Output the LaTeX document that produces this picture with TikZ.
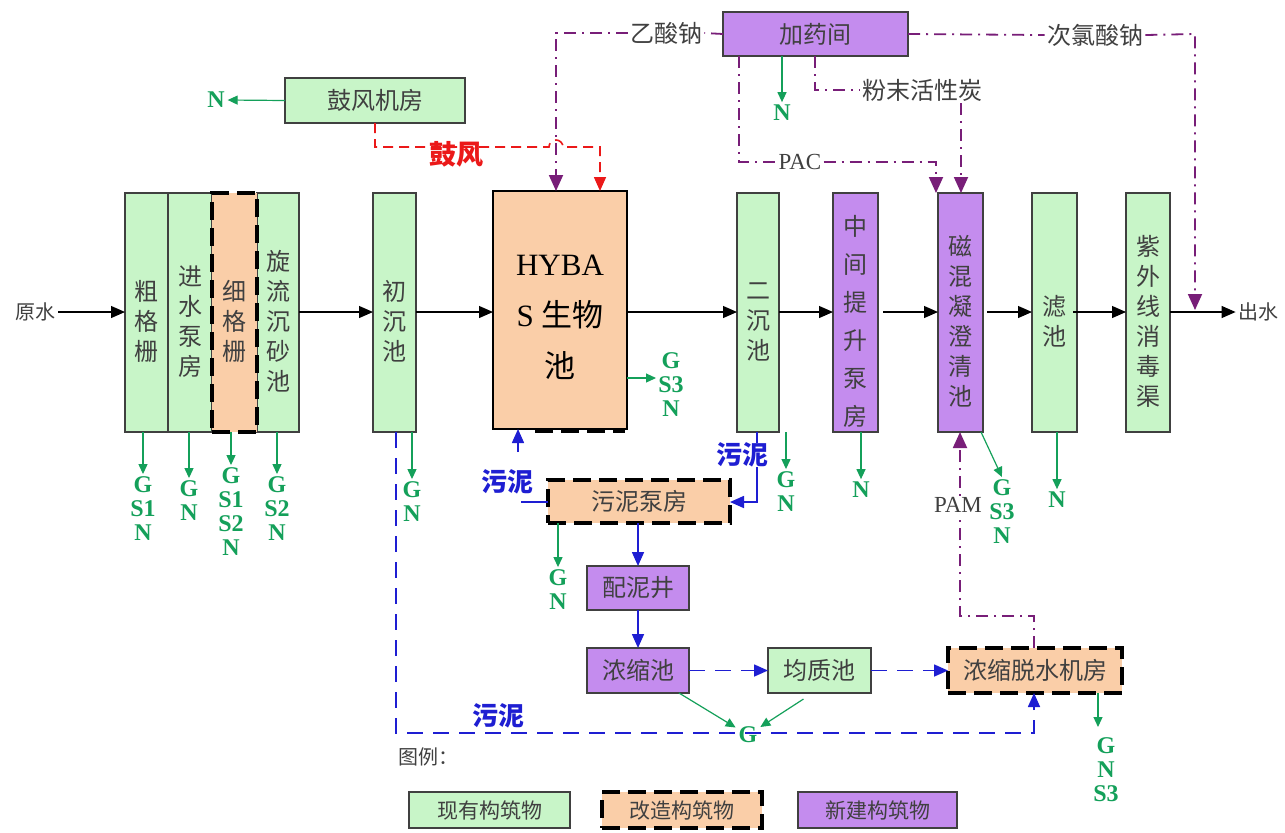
\documentclass[tikz,border=0pt]{standalone}
\usepackage{fontspec}
\setmainfont{Liberation Serif}
\newfontfamily\cjk{Noto Sans CJK SC}
\usetikzlibrary{arrows.meta,fit}
\newcommand\myfs[2]{\fontsize{#1}{#2}\selectfont}
\definecolor{gfill}{RGB}{200,245,200}
\definecolor{ofill}{RGB}{250,206,168}
\definecolor{pfill}{RGB}{196,140,238}
\definecolor{gcol}{RGB}{20,160,90}
\definecolor{bcol}{RGB}{30,30,210}
\definecolor{pcol}{RGB}{120,30,120}
\definecolor{rcol}{RGB}{235,25,25}
\tikzset{
 box/.style={rectangle, inner sep=0pt, outer sep=0pt, line width=0.8pt, draw=black!75},
 gbox/.style={box, fill=gfill},
 pbox/.style={box, fill=pfill},
 obox/.style={box, fill=ofill, draw=black, line width=1.6pt, dash pattern=on 9pt off 4pt},
 vt/.style={inner sep=0pt, align=center, text=black!75, font=\cjk\myfs{12}{15}},
 ht/.style={inner sep=0pt, text=black!75, font=\cjk\myfs{12}{15}},
 flow/.style={line width=0.6pt, draw=black, -{Triangle[length=7pt,width=6pt]}},
 garr/.style={line width=0.6pt, draw=gcol, -{Triangle[length=5pt,width=4.5pt]}},
 glab/.style={inner sep=0pt, outer sep=1.5pt, align=center, text=gcol, font=\bfseries\myfs{12}{12}},
 bsolid/.style={line width=0.8pt, draw=bcol},
 barr/.style={bsolid, -{Triangle[length=7pt,width=6pt]}},
 bdash/.style={barr, dash pattern=on 8pt off 5pt},
 pline/.style={line width=0.9pt, draw=pcol, dash pattern=on 6pt off 3pt on 1pt off 3pt},
 parr/.style={pline, -{Triangle[length=8pt,width=7pt]}},
 rdash/.style={line width=0.8pt, draw=rcol, dash pattern=on 5pt off 3pt, -{Triangle[length=7pt,width=6pt]}},
 lab/.style={inner sep=1pt, text=black!75, font=\cjk\myfs{12}{14}},
 tlab/.style={inner sep=1pt, text=black!75, font=\myfs{11.5}{14}},
 slab/.style={inner sep=1pt, text=bcol, font=\cjk\bfseries\myfs{13}{14}},
}
\begin{document}
\begin{tikzpicture}[x=0.5pt,y=-0.5pt]
\useasboundingbox[fill=white] (0,0) rectangle (1285,832);

% main process boxes
\node[gbox, fit={(125,193) (168,432)}] (cgz) {};
\node[gbox, fit={(168,193) (212,432)}] (jsbf) {};
\node[gbox, fit={(257,193) (299,432)}] (xlcs) {};
\node[obox, fit={(212,193) (257,432)}] (xgz) {};
\node[gbox, fit={(373,193) (416,432)}] (ccc) {};
\node[box, fill=ofill, draw=black, fit={(493,191) (627,429)}] (hybas) {};
\node[gbox, fit={(737,193) (779,432)}] (ecc) {};
\node[pbox, fit={(833,193) (878,432)}] (zjts) {};
\node[pbox, fit={(938,193) (983,432)}] (chn) {};
\node[gbox, fit={(1032,193) (1077,432)}] (lc) {};
\node[gbox, fit={(1126,193) (1170,432)}] (zwx) {};
\draw[line width=1.6pt, dash pattern=on 9pt off 4pt] (535,431) -- (625,431);

\node[vt] (cgzt) at ([yshift=-4.5pt]cgz.center) {粗\\格\\栅};
\node[vt] (jsbft) at ([yshift=-4.5pt]jsbf.center) {进\\水\\泵\\房};
\node[vt] (xgzt) at ([yshift=-4.5pt]xgz.center) {细\\格\\栅};
\node[vt] (xlcst) at ([yshift=-4.5pt]xlcs.center) {旋\\流\\沉\\砂\\池};
\node[vt] (ccct) at ([yshift=-4.5pt]ccc.center) {初\\沉\\池};
\node[vt, text=black, font=\myfs{15.5}{25.5}] (hybast) at ([yshift=-3.5pt]hybas.center) {HYBA\\S {\cjk 生物}\\{\cjk 池}};
\node[vt] (ecct) at ([yshift=-4.5pt]ecc.center) {二\\沉\\池};
\node[vt, font=\cjk\myfs{12}{19}] (zjtst) at ([yshift=-4.5pt]zjts.center) {中\\间\\提\\升\\泵\\房};
\node[vt] (chnt) at ([yshift=-4.5pt]chn.center) {磁\\混\\凝\\澄\\清\\池};
\node[vt] (lct) at ([yshift=-4.5pt]lc.center) {滤\\池};
\node[vt] (zwxt) at ([yshift=-4.5pt]zwx.center) {紫\\外\\线\\消\\毒\\渠};

% top boxes
\node[gbox, fit={(285,78) (465,123)}] (gfjf) {};
\node[ht] (gfjft) at (gfjf.center) {鼓风机房};
\node[pbox, fit={(723,12) (908,56)}] (jyj) {};
\node[ht] (jyjt) at (jyj.center) {加药间};

% sludge line boxes
\node[obox, fit={(548,480) (730,523)}] (wnbf) {};
\node[ht] (wnbft) at (wnbf.center) {污泥泵房};
\node[pbox, fit={(587,566) (689,610)}] (pnj) {};
\node[ht] (pnjt) at (pnj.center) {配泥井};
\node[pbox, fit={(587,648) (689,693)}] (nsc) {};
\node[ht] (nsct) at (nsc.center) {浓缩池};
\node[gbox, fit={(768,648) (871,693)}] (jzc) {};
\node[ht] (jzct) at (jzc.center) {均质池};
\node[obox, fit={(948,648) (1122,693)}] (nstsj) {};
\node[ht] (nstsjt) at (nstsj.center) {浓缩脱水机房};

% flow labels
\node[lab, font=\cjk\myfs{10}{12}] (ys) at (36,312) {原水};
\node[lab, font=\cjk\myfs{10}{12}] (cs) at (1258,312) {出水};

% main flow
\draw[flow] (ys.east) -- (cgz.west |- ys.east);
\draw[flow] (xlcs.east |- ys.east) -- (ccc.west |- ys.east);
\draw[flow] (ccc.east |- ys.east) -- (hybas.west |- ys.east);
\draw[flow] (hybas.east |- ys.east) -- (ecc.west |- ys.east);
\draw[flow] (ecc.east |- ys.east) -- (zjts.west |- ys.east);
\draw[flow] ([xshift=2.5pt]zjts.east |- ys.east) -- (chn.west |- ys.east);
\draw[flow] ([xshift=2pt]chn.east |- ys.east) -- (lc.west |- ys.east);
\draw[flow] ([xshift=-2pt]lc.east |- ys.east) -- (zwx.west |- ys.east);
\draw[flow] (zwx.east |- ys.east) -- (cs.west);

% green emissions
\node[glab] (g1) at (143,509) {G\\S1\\N};
\node[glab] (g2) at (189,501) {G\\N};
\node[glab] (g3) at (231,512) {G\\S1\\S2\\N};
\node[glab] (g4) at (277,509) {G\\S2\\N};
\node[glab] (g5) at (412,502) {G\\N};
\node[glab] (g6) at (671,385) {G\\S3\\N};
\node[glab] (g7) at (786,492) {G\\N};
\node[glab] (g8) at (861,490) {N};
\node[glab] (g9) at (1002,512) {G\\S3\\N};
\node[glab] (g10) at (1057,500) {N};
\node[glab] (g11) at (782,113) {N};
\node[glab] (g12) at (216,100) {N};
\node[glab] (g13) at (558,590) {G\\N};
\node[glab] (g14) at (748,735) {G};
\node[glab] (g15) at (1106,770) {G\\N\\S3};

\draw[garr] (cgz.south -| g1) -- (g1);
\draw[garr] (jsbf.south -| g2) -- (g2);
\draw[garr] (xgz.south -| g3) -- (g3);
\draw[garr] (xlcs.south -| g4) -- (g4);
\draw[garr] (ccc.south -| g5) -- (g5);
\coordinate (g6a) at (656,378);
\draw[garr] (hybas.east |- g6a) -- (g6a);
\draw[garr] (ecc.south -| g7) -- (g7);
\draw[garr] (zjts.south -| g8) -- (g8);
\draw[garr] ([xshift=-1pt]chn.south east) -- (g9.north);
\draw[garr] (lc.south -| g10) -- (g10);
\draw[garr] (jyj.south -| g11) -- (g11);
\draw[garr] (gfjf.west) -- (g12.east);
\draw[garr] (wnbf.south -| g13) -- (g13);
\draw[garr] ([xshift=-5pt]nsc.south east) -- (g14);
\draw[garr] ([xshift=-8pt,yshift=-3pt]jzc.south) -- (g14);
\coordinate (g15a) at (1098,727);
\draw[garr] (nstsj.south -| g15a) -- (g15a);

% blue sludge lines
\coordinate (b1) at (396,733);
\coordinate (b2) at (1034,733);
\draw[bdash] (ccc.south -| b1) -- (b1) -- (b2) -- (nstsj.south -| b2);
\node[slab] (sl3) at (498,716) {污泥};
\coordinate (b3) at (757,502);
\draw[barr] (ecc.south -| b3) -- (b3) -- (wnbf.east |- b3);
\node[slab, fill=white, inner sep=0pt] (sl2) at (742,455) {污泥};
\coordinate (b4) at (521,502);
\draw[bsolid] (wnbf.west |- b4) -- (b4);
\node[slab] (sl1) at (507,482) {污泥};
\coordinate (b5) at (518,452);
\draw[barr] (b5) -- (hybas.south -| b5);
\draw[barr] (wnbf.south -| pnj.north) -- (pnj.north);
\draw[barr] (pnj) -- (nsc);
\draw[bdash] (nsc) -- (jzc);
\draw[bdash] (jzc) -- (nstsj);

% blower air (red)
\coordinate (r1) at (375,147);
\coordinate (r2) at (600,147);
\draw[rdash] (gfjf.south -| r1) -- (r1) -- (549,147) arc[start angle=180,end angle=360,radius=7] -- (r2) -- (hybas.north -| r2);
\node[inner sep=0pt, text=rcol, font=\cjk\bfseries\myfs{13.5}{14}] (gf) at (456,154) {鼓风};

% chemical dosing (purple)
\node[lab] (ysn) at (666,33) {乙酸钠};
\node[lab] (clsn) at (1095,35) {次氯酸钠};
\node[tlab] (pac) at (800,162) {PAC};
\node[lab] (fmhx) at (922,90) {粉末活性炭};
\coordinate (p1) at (556,33);
\draw[pline] (jyj.west) -- (ysn.east);
\draw[parr] (ysn.west) -- (p1) -- (hybas.north -| p1);
\coordinate (p2) at (1195,34);
\coordinate (p3) at (1195,310);
\draw[pline] (jyj.east) -- (clsn.west);
\draw[parr] (clsn.east) -- (p2) -- (p3);
\coordinate (p4) at (739,162);
\coordinate (p5) at (936,162);
\draw[pline] (jyj.south -| p4) -- (p4) -- (pac.west);
\draw[parr] (pac.east) -- (p5) -- (chn.north -| p5);
\coordinate (p6) at (815,90);
\coordinate (p7) at (961,100);
\draw[pline] (jyj.south -| p6) -- (p6) -- (fmhx.west);
\draw[parr] (fmhx.south -| p7) -- (chn.north -| p7);
\coordinate (p8) at (1034,616);
\coordinate (p9) at (960,616);
\draw[parr] (nstsj.north -| p8) -- (p8) -- (p9) -- (chn.south -| p9);
\node[tlab, fill=white, inner sep=0.5pt] (pam) at (958,505) {PAM};

% legend
\node[lab, font=\cjk\myfs{10}{12}, anchor=west] (tl) at (396,757) {图例：};
\node[gbox, fit={(409,792) (570,828)}] (lg1) {};
\node[ht, font=\cjk\myfs{10.5}{12}] (lg1t) at (lg1.center) {现有构筑物};
\node[obox, fit={(602,792) (762,828)}] (lg2) {};
\node[ht, font=\cjk\myfs{10.5}{12}] (lg2t) at (lg2.center) {改造构筑物};
\node[pbox, fit={(798,792) (957,828)}] (lg3) {};
\node[ht, font=\cjk\myfs{10.5}{12}] (lg3t) at (lg3.center) {新建构筑物};
\end{tikzpicture}
\end{document}
